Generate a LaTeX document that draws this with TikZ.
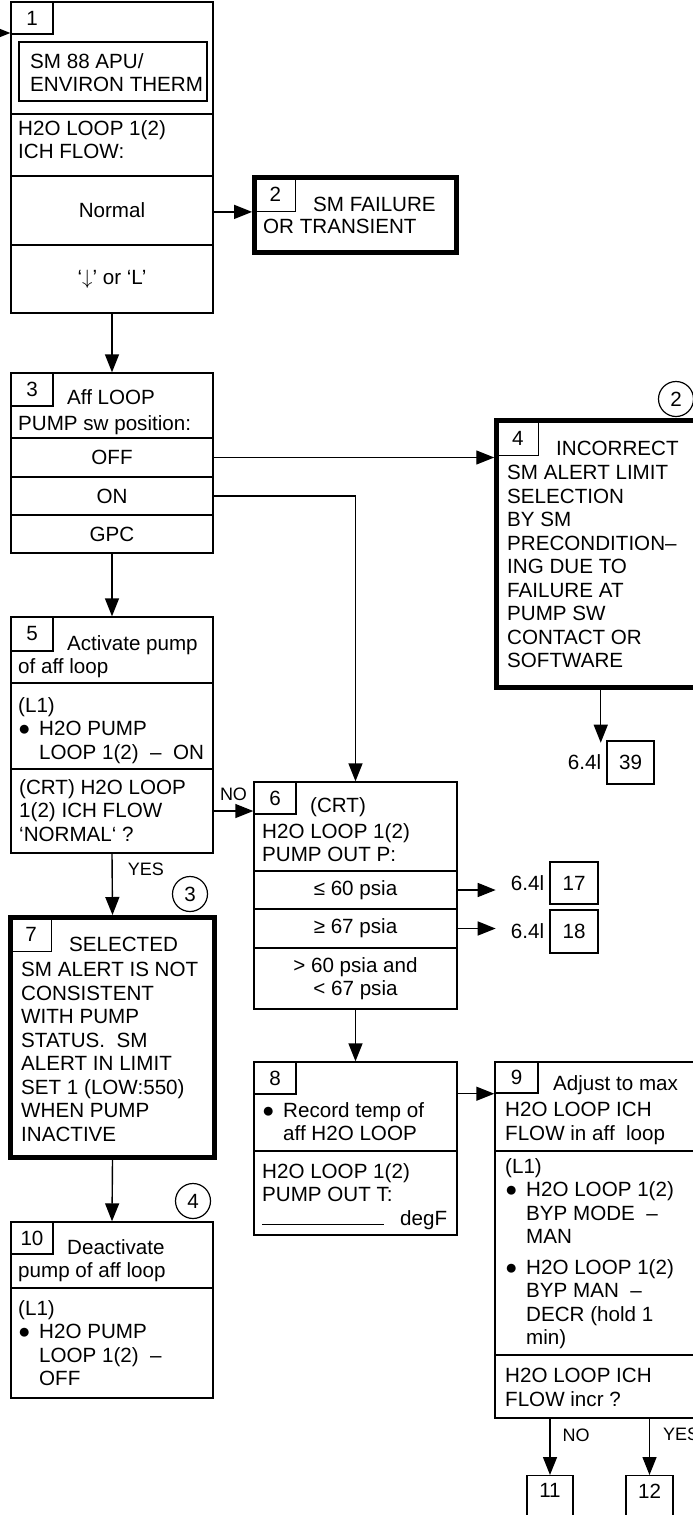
\documentclass[tikz,border=0pt]{standalone}
\usepackage{fontspec}
\setmainfont{Liberation Sans}
\usetikzlibrary{arrows.meta,positioning}
\newcommand{\fs}{\fontsize{20.6}{23.5}\selectfont}
\newcommand{\itm}{\makebox[21pt][l]{●}}
\newcommand{\cont}{\hspace*{21pt}}

\begin{document}
\begin{tikzpicture}[x=1pt,y=-1pt,font=\fs,
  sect/.style={draw,line width=1.4pt,inner sep=0pt,align=center,minimum width=202pt},
  heavy/.style={draw,line width=5pt,inner sep=0pt},
  numbox/.style={draw,line width=1.4pt,inner sep=0pt,anchor=north west,minimum width=42pt,minimum height=32pt},
  txt/.style={inner sep=0pt,align=left,anchor=north west},
  xref/.style={draw,line width=1.4pt,inner sep=0pt,minimum width=47pt,minimum height=43pt},
  refc/.style={circle,draw,line width=1.2pt,minimum size=35pt,inner sep=0pt},
  lbl/.style={inner sep=0pt,font=\fontsize{18}{20}\selectfont},
  arr/.style={-{Triangle[length=18pt,width=14pt]},line width=1.4pt}]
  \useasboundingbox (0,0) rectangle (693,1515);
  \clip (0,0) rectangle (693,1515);

  % box 1
  \node[sect,minimum height=112pt] (b1) at (112,58) {};
  \node[sect,minimum height=62pt] (b1f) at (112,145) {};
  \node[sect,minimum height=69pt] (b1n) at (112,210.5) {Normal};
  \node[sect,minimum height=68pt] (b1l) at (112,279) {‘$\downarrow$’ or ‘L’};
  \node[numbox] (n1) at (b1.north west) {1};
  \node[sect,minimum width=188pt,minimum height=59pt] (m1) at (113,71.5) {};
  \node[txt] (t1) at (30,53) {SM 88 APU/\\ENVIRON THERM};
  \node[txt] (t1f) at (18,120) {H2O LOOP 1(2)\\ICH FLOW:};

  % box 2
  \node[heavy,minimum width=202pt,minimum height=75pt] (b2) at (355.6,215) {};
  \node[numbox,minimum width=40pt,minimum height=33pt] (n2) at ([shift={(2.5,2.5)}]b2.north west) {2};
  \node[txt] (t2) at (263,197) {\hspace*{50pt}SM FAILURE\\[-1.5pt]OR TRANSIENT};

  % box 3
  \node[sect,minimum height=65pt] (b3) at (112,405.5) {};
  \node[sect,minimum height=39pt] (b3off) at (112,457.5) {OFF};
  \node[sect,minimum height=38pt] (b3on) at (112,496) {ON};
  \node[sect,minimum height=38pt] (b3gpc) at (112,534) {GPC};
  \node[numbox,minimum height=33pt] (n3) at (b3.north west) {3};
  \node[txt] (t3) at (18,389) {\hspace*{49pt}Aff LOOP\\[2.5pt]PUMP sw position:};

  % box 4
  \node[heavy,minimum width=208pt,minimum height=267pt] (b4) at (600.75,554) {};
  \node[numbox,minimum width=41pt,minimum height=34pt] (n4) at ([shift={(2.5,2.5)}]b4.north west) {4};
  \node[txt] (t4) at (507,441) {\hspace*{49pt}INCORRECT\\[0.5pt]SM ALERT LIMIT\\SELECTION\\BY SM\\PRECONDITION–\\ING DUE TO\\FAILURE AT\\PUMP SW\\CONTACT OR\\SOFTWARE};
  \node[refc] (c2) at (676,399) {2};
  \node[xref] (x39) at (630.5,762.5) {39};
  \node[left=5pt of x39,inner sep=0pt] (l39) {6.4l};

  % box 5
  \node[sect,minimum height=66pt] (b5) at (112,650) {};
  \node[sect,minimum height=86pt] (b5a) at (112,726) {};
  \node[sect,minimum height=84pt] (b5q) at (112,811) {};
  \node[numbox,minimum height=34pt] (n5) at (b5.north west) {5};
  \node[txt] (t5) at (18,635) {\hspace*{49pt}Activate pump\\of aff loop};
  \node[txt] (t5a) at (18,697) {(L1)\\\itm H2O PUMP\\\cont LOOP 1(2)\ \ –\ \ ON};
  \node[txt] (t5q) at (19,779) {(CRT) H2O LOOP\\1(2) ICH FLOW\\‘NORMAL‘ ?};

  % box 6
  \node[sect,minimum width=203pt,minimum height=89pt] (b6) at (355.5,826.5) {};
  \node[sect,minimum width=203pt,minimum height=38pt] (b6a) at (355.5,890) {≤ 60 psia};
  \node[sect,minimum width=203pt,minimum height=39pt] (b6b) at (355.5,928.5) {≥ 67 psia};
  \node[sect,minimum width=203pt,minimum height=61pt] (b6c) at (355.5,978.5) {> 60 psia and\\< 67 psia};
  \node[numbox] (n6) at (b6.north west) {6};
  \node[txt] (t6) at (262,797) {\hspace*{48pt}(CRT)\\[2.5pt]H2O LOOP 1(2)\\PUMP OUT P:};
  \node[xref,minimum width=48pt,minimum height=42pt] (x17) at (574,883) {17};
  \node[left=5pt of x17,inner sep=0pt] (l17) {6.4l};
  \node[xref,minimum width=48pt] (x18) at (574,931.5) {18};
  \node[left=5pt of x18,inner sep=0pt] (l18) {6.4l};

  % box 7
  \node[heavy,minimum width=204pt,minimum height=240pt] (b7) at (112.5,1037.5) {};
  \node[numbox,minimum width=40pt,minimum height=33pt] (n7) at ([shift={(2.5,2.5)}]b7.north west) {7};
  \node[txt] (t7) at (21,937) {\hspace*{48pt}SELECTED\\[1.5pt]SM ALERT IS NOT\\CONSISTENT\\WITH PUMP\\STATUS.\ \ SM\\ALERT IN LIMIT\\SET 1 (LOW:550)\\WHEN PUMP\\INACTIVE};
  \node[refc] (c3) at (190,894) {3};

  % box 8
  \node[sect,minimum width=203pt,minimum height=89pt] (b8) at (355.5,1106.5) {};
  \node[sect,minimum width=203pt,minimum height=84pt] (b8a) at (355.5,1193) {};
  \node[numbox] (n8) at (b8.north west) {8};
  \node[txt] (t8) at (262,1102) {\itm Record temp of\\\cont aff H2O LOOP};
  \node[txt] (t8a) at (262,1163) {H2O LOOP 1(2)\\PUMP OUT T:\\\rule{122pt}{1.2pt}\hspace{16pt}degF};

  % box 9
  \node[sect,minimum width=210pt,minimum height=89pt] (b9) at (600,1106.5) {};
  \node[sect,minimum width=210pt,minimum height=204pt] (b9a) at (600,1253) {};
  \node[sect,minimum width=210pt,minimum height=63pt] (b9q) at (600,1386.5) {};
  \node[numbox,minimum width=43pt,minimum height=31pt] (n9) at (b9.north west) {9};
  \node[txt] (t9) at (505,1075) {\hspace*{48pt}Adjust to max\\[3pt]H2O LOOP ICH\\FLOW in aff\ \ loop};
  \node[txt] (t9a) at (505,1158) {(L1)\\\itm H2O LOOP 1(2)\\\cont BYP MODE\ \ –\\\cont MAN\\[7pt]\itm H2O LOOP 1(2)\\\cont BYP MAN\ \ –\\\cont DECR (hold 1\\\cont min)};
  \node[txt] (t9q) at (505,1368) {H2O LOOP ICH\\FLOW incr ?};
  \node[xref,anchor=north,minimum width=46pt,minimum height=0pt,inner ysep=8pt,text depth=30pt] (x11) at (550,1475) {11};
  \node[xref,anchor=north,minimum width=47pt,minimum height=0pt,inner ysep=8pt,text depth=30pt] (x12) at (649.5,1475) {12};

  % box 10
  \node[sect,minimum height=66pt] (b10) at (112,1255) {};
  \node[sect,minimum height=110pt] (b10a) at (112,1343) {};
  \node[numbox] (n10) at (b10.north west) {10};
  \node[txt] (t10) at (18,1239) {\hspace*{49pt}Deactivate\\pump of aff loop};
  \node[txt] (t10a) at (18,1300) {(L1)\\\itm H2O PUMP\\\cont LOOP 1(2)\ \ –\\\cont OFF};
  \node[refc] (c4) at (193,1201) {4};

  % connectors
  \coordinate (entry) at (-30,33);
  \draw[arr] (entry) -- (entry -| b1.west);
  \draw[arr] (n2.south west -| b1n.east) -- (n2.south west -| b2.west);
  \draw[arr] (b1l.south) -- (b3.north);
  \draw[arr] (b3off.east) -- (b3off.east -| b4.west);
  \draw[arr] (b3on.east) -| (b6.north);
  \draw[arr] (b3gpc.south) -- (b5.north);
  \draw[arr] (b5q.east) -- node[lbl,above=10pt] (lno) {NO} (b5q.east -| b6.west);
  \draw[arr] (b5q.south) -- node[lbl,pos=0.25,right=15pt] (lyes) {YES} (b7.north);
  \draw[arr,shorten >=12pt] (b4.south) -- (b4.south |- l39.north);
  \draw[arr] (b6c.south) -- (b8.north);
  \draw[arr,shorten >=15pt] (b6a.east) -- (b6a.east -| l17.west);
  \draw[arr,shorten >=15pt] (b6b.east) -- (b6b.east -| l18.west);
  \draw[arr] (b7.south) -- (b10.north);
  \draw[arr] (n9.south west -| b8.east) -- (n9.south west);
  \draw[arr] (b9q.south -| x11.north) -- node[lbl,pos=0.3,right=12pt] (lno2) {NO} (x11.north);
  \draw[arr] (b9q.south -| x12.north) -- node[lbl,pos=0.27,right=13pt] (lyes2) {YES} (x12.north);
\end{tikzpicture}
\end{document}
